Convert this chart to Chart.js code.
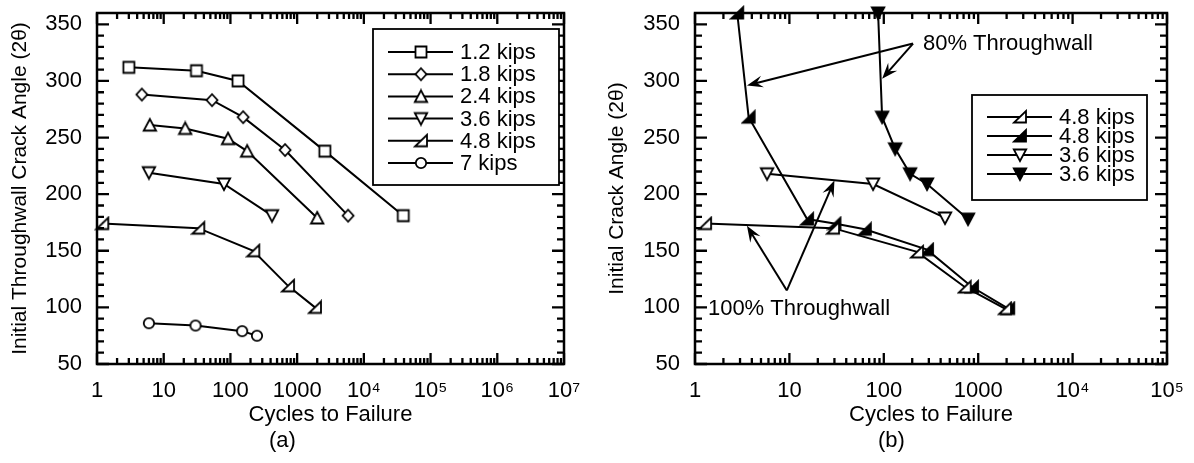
<!DOCTYPE html>
<html>
<head>
<meta charset="utf-8">
<script src="https://cdn.jsdelivr.net/npm/chart.js@4.4.1/dist/chart.umd.min.js"></script>
<style>
  html, body { margin:0; padding:0; background:#fff; }
  #wrap { position:relative; width:1194px; height:463px; overflow:hidden; }
  .pane { position:absolute; top:0; width:597px; height:463px; }
  .tag { position:absolute; top:427px; font:22px "Liberation Sans", Arial, sans-serif; color:#000; }
</style>
</head>
<body>
<div id="wrap">
  <div class="pane" style="left:0"><canvas id="ga" width="597" height="463"></canvas></div>
  <div class="pane" style="left:597px"><canvas id="gb" width="597" height="463"></canvas></div>
  <div class="tag" style="left:269px">(a)</div>
  <div class="tag" style="left:878px">(b)</div>
</div>
<script>
// ---- data (a) ----
const labelsA = ['1.2 kips', '1.8 kips', '2.4 kips', '3.6 kips', '4.8 kips', '7 kips'];
const cyc12 = [3, 31, 130, 2600, 39000];
const ang12 = [312, 309, 300, 238, 181];
const cyc18 = [4.7, 53, 155, 660, 5800];
const ang18 = [288, 283, 268, 239, 181];
const cyc24 = [6.2, 21, 92, 178, 2000];
const ang24 = [261, 258, 249, 238, 179];
const cyc36 = [6, 80, 420];
const ang36 = [219, 209, 181];
const cyc48 = [1.2, 33, 220, 730, 1850];
const ang48 = [174, 170, 150, 119, 100];
const cyc70 = [6, 30, 150, 250];
const ang70 = [86, 84, 79, 75];
const xTicksA = ['1', '10', '100', '1000', '10⁴', '10⁵', '10⁶', '10⁷'];

// ---- data (b) ----
const labelsB = ['4.8 kips', '4.8 kips', '3.6 kips', '3.6 kips'];
const cycB48o = [1.28, 29, 225, 720, 1920];
const angB48o = [174, 170, 149, 118, 99];
const cycB48f = [2.8, 3.7, 15.4, 30, 63, 287, 860, 2080];
const angB48f = [360, 268, 178, 174, 169, 151, 118, 99];
const cycB36o = [5.8, 77, 445];
const angB36o = [218, 209, 179];
const cycB36f = [87, 96, 132, 190, 287, 780];
const angB36f = [360, 268, 240, 218, 209, 178];
const xTicksB = ['1', '10', '100', '1000', '10⁴', '10⁵'];

const yTicks = [50, 100, 150, 200, 250, 300, 350];

const FONT = '"Liberation Sans", Arial, sans-serif';
Chart.defaults.font.family = FONT;
Chart.defaults.font.size = 22;
Chart.defaults.color = '#000';

// marker glyphs
function mk(shape, filled) {
  const c = document.createElement('canvas');
  c.width = c.height = 16;
  const g = c.getContext('2d');
  g.lineWidth = 1.8;
  g.strokeStyle = '#000';
  g.fillStyle = filled ? '#000' : '#fff';
  g.beginPath();
  if (shape === 'square') g.rect(2.5, 2.5, 11, 11);
  if (shape === 'diamond') { g.moveTo(8, 2); g.lineTo(13.5, 8); g.lineTo(8, 14); g.lineTo(2.5, 8); }
  if (shape === 'up') { g.moveTo(8, 2); g.lineTo(14.2, 13.5); g.lineTo(1.8, 13.5); }
  if (shape === 'down') { g.moveTo(1.8, 2.5); g.lineTo(14.2, 2.5); g.lineTo(8, 14); }
  if (shape === 'half') { g.moveTo(2, 13.5); g.lineTo(14, 13.5); g.lineTo(14, 2); }
  if (shape === 'circle') g.arc(8, 8, 5.2, 0, Math.PI * 2);
  g.closePath();
  g.fill();
  g.stroke();
  return c;
}

function ds(label, xs, ys, marker) {
  return {
    label, data: xs.map((v, i) => ({ x: v, y: ys[i] })),
    pointStyle: marker, borderColor: '#000', backgroundColor: '#000',
    borderWidth: 2, tension: 0, fill: false, clip: false
  };
}

function logValues(max) {
  const out = [];
  for (let k = 0; Math.pow(10, k) <= max; k++)
    for (let m = 1; m <= 9; m++) {
      const v = m * Math.pow(10, k);
      if (v <= max) out.push(v);
    }
  return out;
}
const isDecade = v => Math.abs(Math.log10(v) - Math.round(Math.log10(v))) < 1e-9;

// inward ticks on all four sides + frame
const frame = {
  id: 'frame',
  afterDraw(chart) {
    const ctx = chart.ctx, a = chart.chartArea;
    const x = chart.scales.x, y = chart.scales.y;
    ctx.save();
    ctx.strokeStyle = '#000';
    ctx.lineWidth = 2.3;
    ctx.beginPath();
    logValues(x.max).forEach(v => {
      const px = x.getPixelForValue(v);
      const L = isDecade(v) ? 11 : 6;
      ctx.moveTo(px, a.bottom); ctx.lineTo(px, a.bottom - L);
      ctx.moveTo(px, a.top); ctx.lineTo(px, a.top + L);
    });
    for (let v = 50; v <= 350; v += 10) {
      const py = y.getPixelForValue(v);
      const L = v % 50 === 0 ? 12 : 7;
      ctx.moveTo(a.left, py); ctx.lineTo(a.left + L, py);
      ctx.moveTo(a.right, py); ctx.lineTo(a.right - L, py);
    }
    ctx.stroke();
    ctx.lineWidth = 2.5;
    ctx.strokeRect(a.left, a.top, a.right - a.left, a.bottom - a.top);
    ctx.restore();
  }
};

// boxed legend inside the plot
const boxLegend = {
  id: 'boxLegend',
  afterDraw(chart, args, o) {
    const { ctx, chartArea: a } = chart;
    const bx = a.right - o.dx, by = a.top + o.dy;
    ctx.save();
    ctx.fillStyle = '#fff';
    ctx.fillRect(bx, by, o.w, o.h);
    ctx.strokeStyle = '#000';
    ctx.lineWidth = 1.8;
    ctx.strokeRect(bx, by, o.w, o.h);
    ctx.font = '22px ' + FONT;
    ctx.fillStyle = '#000';
    ctx.textBaseline = 'middle';
    chart.data.datasets.forEach((d, i) => {
      const ry = by + o.first + i * o.gap;
      ctx.lineWidth = 2;
      ctx.beginPath(); ctx.moveTo(bx + 15, ry); ctx.lineTo(bx + 80, ry); ctx.stroke();
      ctx.drawImage(d.pointStyle, bx + 48 - 8, ry - 8);
      ctx.fillText(d.label, bx + 87, ry + 1);
    });
    ctx.restore();
  }
};

function arrow(ctx, x1, y1, x2, y2) {
  const ang = Math.atan2(y2 - y1, x2 - x1);
  ctx.beginPath();
  ctx.moveTo(x1, y1);
  ctx.lineTo(x2 - Math.cos(ang) * 8, y2 - Math.sin(ang) * 8);
  ctx.stroke();
  ctx.save();
  ctx.translate(x2, y2);
  ctx.rotate(ang);
  ctx.beginPath();
  ctx.moveTo(0, 0); ctx.lineTo(-16, -6); ctx.lineTo(-10, 0); ctx.lineTo(-16, 6);
  ctx.closePath();
  ctx.fill();
  ctx.restore();
}

// throughwall callouts on (b), anchored in data space
const notes = {
  id: 'notes',
  afterDatasetsDraw(chart) {
    const { ctx, scales: { x, y } } = chart;
    const P = (cx, cy) => [x.getPixelForValue(cx), y.getPixelForValue(cy)];
    ctx.save();
    ctx.strokeStyle = '#000';
    ctx.fillStyle = '#000';
    ctx.lineWidth = 2;
    const s80 = P(204, 333);
    arrow(ctx, ...s80, ...P(3.55, 296));
    arrow(ctx, ...s80, ...P(96, 302));
    const s100 = P(9.4, 115);
    arrow(ctx, ...s100, ...P(3.55, 172));
    arrow(ctx, ...s100, ...P(30, 212));
    ctx.font = '22px ' + FONT;
    ctx.textBaseline = 'middle';
    const t80 = P(260, 333);
    ctx.fillText('80% Throughwall', t80[0], t80[1]);
    const t100 = P(1.37, 99);
    ctx.fillText('100% Throughwall', t100[0], t100[1]);
    ctx.restore();
  }
};

function scales(xmax, xlabels, ytitle, yw) {
  return {
    x: {
      type: 'logarithmic', min: 1, max: xmax,
      afterBuildTicks: s => { s.ticks = logValues(xmax).filter(isDecade).map(v => ({ value: v })); },
      ticks: {
        autoSkip: false, maxRotation: 0, padding: 6,
        callback: v => xlabels[Math.round(Math.log10(v))]
      },
      grid: { display: false }, border: { display: false },
      title: { display: true, text: 'Cycles to Failure', padding: 0 },
      afterFit: s => { s.height = 64; s.paddingLeft = 0; s.paddingRight = 0; }
    },
    y: {
      min: 50, max: 360,
      afterBuildTicks: s => { s.ticks = yTicks.map(v => ({ value: v })); },
      ticks: { autoSkip: false, padding: 7 },
      grid: { display: false }, border: { display: false },
      title: { display: true, text: ytitle, font: { size: 21 }, padding: { top: 8, bottom: 0 } },
      afterFit: s => { s.width = yw; s.paddingTop = 0; s.paddingBottom = 0; }
    }
  };
}

new Chart(document.getElementById('ga'), {
  type: 'line',
  data: {
    datasets: [
      ds(labelsA[0], cyc12, ang12, mk('square', false)),
      ds(labelsA[1], cyc18, ang18, mk('diamond', false)),
      ds(labelsA[2], cyc24, ang24, mk('up', false)),
      ds(labelsA[3], cyc36, ang36, mk('down', false)),
      ds(labelsA[4], cyc48, ang48, mk('half', false)),
      ds(labelsA[5], cyc70, ang70, mk('circle', false))
    ]
  },
  options: {
    responsive: false, animation: false,
    layout: { padding: { left: 0, right: 33, top: 13, bottom: 35 } },
    plugins: {
      legend: { display: false }, tooltip: { enabled: false },
      boxLegend: { dx: 191, dy: 16, w: 186, h: 156, first: 23, gap: 22.2 }
    },
    scales: scales(1e7, xTicksA, 'Initial Throughwall Crack Angle (2θ)', 97)
  },
  plugins: [frame, boxLegend]
});

new Chart(document.getElementById('gb'), {
  type: 'line',
  data: {
    datasets: [
      ds(labelsB[0], cycB48o, angB48o, mk('half', false)),
      ds(labelsB[1], cycB48f, angB48f, mk('half', true)),
      ds(labelsB[2], cycB36o, angB36o, mk('down', false)),
      ds(labelsB[3], cycB36f, angB36f, mk('down', true))
    ]
  },
  options: {
    responsive: false, animation: false,
    layout: { padding: { left: 0, right: 27, top: 13, bottom: 35 } },
    plugins: {
      legend: { display: false }, tooltip: { enabled: false },
      boxLegend: { dx: 195, dy: 82, w: 175, h: 105, first: 22, gap: 19 }
    },
    scales: scales(1e5, xTicksB, 'Initial Crack Angle (2θ)', 98)
  },
  plugins: [frame, notes, boxLegend]
});
</script>
</body>
</html>
